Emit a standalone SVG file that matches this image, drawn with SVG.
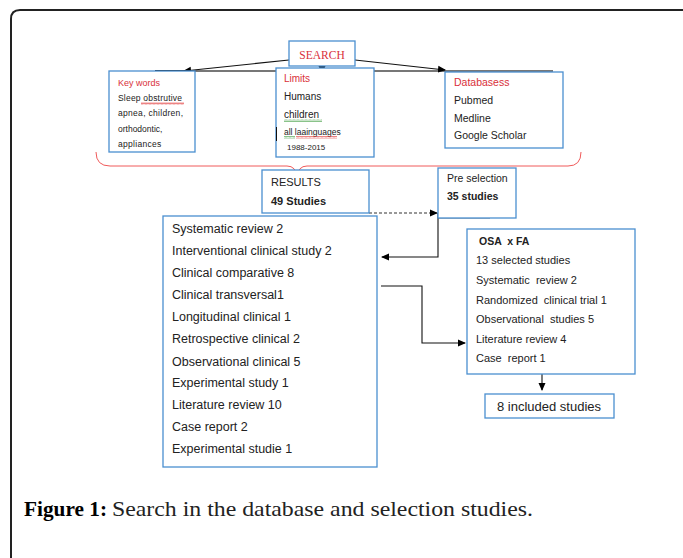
<svg xmlns="http://www.w3.org/2000/svg" width="683" height="558" viewBox="0 0 683 558">
<defs>
<marker id="ah" markerWidth="8" markerHeight="8" refX="7" refY="4" orient="auto" markerUnits="userSpaceOnUse"><path d="M0,0.5 L8,4 L0,7.5 Z" fill="#000"/></marker>
<pattern id="wr" width="4" height="3" patternUnits="userSpaceOnUse"><path d="M0,2.5 L1,0.5 L2,2.5 L3,0.5 L4,2.5" fill="none" stroke="#e03030" stroke-width="0.6"/></pattern>
<pattern id="wg" width="4" height="3" patternUnits="userSpaceOnUse"><path d="M0,2.5 L1,0.5 L2,2.5 L3,0.5 L4,2.5" fill="none" stroke="#3a9a3a" stroke-width="0.6"/></pattern>
</defs>
<style>
.box{fill:#fff;stroke:#4a8fd0;stroke-width:1.3}
.t{font-family:"Liberation Sans",Arial,sans-serif;fill:#222}
.red{fill:#d9303a}
.b{font-weight:bold}
.ln{fill:none;stroke:#111;stroke-width:1.1}
</style>
<rect width="683" height="558" fill="#fff"/>
<path d="M11,558 L11,19 Q11,10 20,10 L690,10" fill="none" stroke="#222" stroke-width="2"/>

<g id="connectors">
<line x1="155" y1="71" x2="553" y2="71" stroke="#777" stroke-width="2"/>
<line x1="155" y1="71" x2="185" y2="71" stroke="#111" stroke-width="2"/>
<line x1="289" y1="60" x2="184" y2="71" class="ln" marker-end="url(#ah)"/>
<line x1="355" y1="60" x2="445" y2="70" class="ln" marker-end="url(#ah)"/>
<line x1="322" y1="66" x2="322" y2="73" class="ln" marker-end="url(#ah)"/>
<path d="M96,152 Q96,166 110,166 L287,166 Q296,166 297,177 Q298,166 307,166 L568,166 Q581,166 581,152" fill="none" stroke="#f05a5a" stroke-width="1"/>
<line x1="369" y1="213" x2="437" y2="213" stroke="#333" stroke-width="1.1" stroke-dasharray="3,2" marker-end="url(#ah)"/>
<line x1="438" y1="218" x2="490" y2="218" stroke="#777" stroke-width="1.2"/>
<path d="M438,213 L438,257 L382,257" class="ln" marker-end="url(#ah)"/>
<path d="M381,286 L422,286 L422,343 L465,343" class="ln" marker-end="url(#ah)"/>
<line x1="542" y1="374" x2="542" y2="390" class="ln" marker-end="url(#ah)"/>
</g>

<g id="search">
<rect class="box" x="289" y="41" width="66" height="25"/>
<text x="322" y="59" text-anchor="middle" font-family="'Liberation Serif','Times New Roman',serif" font-size="11.5" fill="#d9303a">SEARCH</text>
</g>

<g id="keywords">
<rect class="box" x="109" y="71" width="86" height="81"/>
<text class="t red" x="118" y="86" font-size="9">Key words</text>
<text class="t" x="118" y="101" font-size="8.5" letter-spacing="0.2">Sleep obstrutive</text>
<rect x="141" y="102" width="43" height="3" fill="url(#wr)"/>
<text class="t" x="118" y="116" font-size="8.5" letter-spacing="0.3">apnea, children,</text>
<text class="t" x="118" y="132" font-size="8.5">orthodontic,</text>
<text class="t" x="118" y="147" font-size="8.5" letter-spacing="0.3">appliances</text>
</g>

<g id="limits">
<rect class="box" x="276" y="68" width="98" height="89"/>
<text class="t red" x="284" y="82" font-size="10">Limits</text>
<text class="t" x="284" y="100" font-size="10">Humans</text>
<text class="t" x="284" y="118" font-size="10">children</text>
<rect x="284" y="119" width="38" height="3" fill="url(#wg)"/>
<line x1="276.5" y1="127" x2="276.5" y2="141" stroke="#111" stroke-width="1"/>
<text class="t" x="284" y="135" font-size="8.5">all laainguages</text>
<rect x="284" y="136" width="11" height="3" fill="url(#wg)"/>
<rect x="296" y="136" width="41" height="3" fill="url(#wr)"/>
<text class="t" x="287" y="150" font-size="8">1988-2015</text>
</g>

<g id="databases">
<rect class="box" x="445" y="72" width="118" height="76"/>
<text class="t red" x="454" y="86" font-size="10.5">Databasess</text>
<text class="t" x="454" y="104" font-size="10.5">Pubmed</text>
<text class="t" x="454" y="122" font-size="10.5">Medline</text>
<text class="t" x="454" y="139" font-size="10.5">Google Scholar</text>
</g>

<g id="results">
<rect class="box" x="262" y="170" width="107" height="43"/>
<text class="t" x="271" y="186" font-size="11">RESULTS</text>
<text class="t b" x="271" y="205" font-size="11">49 Studies</text>
</g>

<g id="preselection">
<rect class="box" x="438" y="168" width="78" height="50"/>
<text class="t" x="447" y="182" font-size="10.5">Pre selection</text>
<text class="t b" x="447" y="200" font-size="10.5">35 studies</text>
</g>

<g id="studylist">
<rect class="box" x="163" y="216" width="214" height="251"/>
<g class="t" font-size="12.5">
<text x="172" y="233">Systematic review 2</text>
<text x="172" y="255">Interventional clinical study 2</text>
<text x="172" y="277">Clinical comparative 8</text>
<text x="172" y="299">Clinical transversal1</text>
<text x="172" y="321">Longitudinal clinical 1</text>
<text x="172" y="343">Retrospective clinical 2</text>
<text x="172" y="366">Observational clinical 5</text>
<text x="172" y="387">Experimental study 1</text>
<text x="172" y="409">Literature review 10</text>
<text x="172" y="431">Case report 2</text>
<text x="172" y="453">Experimental studie 1</text>
</g>
</g>

<g id="osafa">
<rect class="box" x="467" y="229" width="168" height="145"/>
<g class="t" font-size="11">
<text class="b" x="479" y="245" font-size="10.5" style="white-space:pre">OSA  x FA</text>
<text x="476" y="264">13 selected studies</text>
<text x="476" y="284" style="white-space:pre">Systematic  review 2</text>
<text x="476" y="304" style="white-space:pre">Randomized  clinical trial 1</text>
<text x="476" y="323" style="white-space:pre">Observational  studies 5</text>
<text x="476" y="343">Literature review 4</text>
<text x="476" y="362" style="white-space:pre">Case  report 1</text>
</g>
</g>

<g id="included">
<rect class="box" x="485" y="394" width="129" height="24"/>
<text class="t" x="549" y="411" font-size="13" text-anchor="middle">8 included studies</text>
</g>

<g id="caption">
<text x="24" y="516" font-family="'Liberation Serif','Times New Roman',serif" font-size="21" font-weight="bold" fill="#000" textLength="83" lengthAdjust="spacingAndGlyphs">Figure 1:</text>
<text x="112" y="516" font-family="'Liberation Serif','Times New Roman',serif" font-size="21" fill="#222" textLength="421" lengthAdjust="spacingAndGlyphs">Search in the database and selection studies.</text>
</g>
</svg>
